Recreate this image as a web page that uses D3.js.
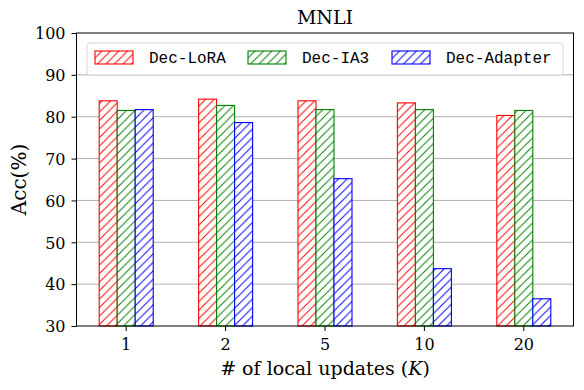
<!DOCTYPE html>
<html>
<head>
<meta charset="utf-8">
<script src="https://cdn.jsdelivr.net/npm/d3@7"></script>
<style>
  body { margin: 0; background: #fff; }
  svg text { fill: #000; }
</style>
</head>
<body>
<svg id="chart" width="584" height="390"></svg>
<script>
var categories = ["1", "2", "5", "10", "20"]
var seriesNames = ["Dec-LoRA", "Dec-IA3", "Dec-Adapter"]
var seriesColors = ["#ff0000", "#008000", "#0000ff"]
var loraVals = [83.8, 84.2, 83.8, 83.3, 80.3]
var ia3Vals = [81.5, 82.7, 81.7, 81.7, 81.5]
var adapterVals = [81.7, 78.6, 65.2, 43.7, 36.5]
var yTicks = [30, 40, 50, 60, 70, 80, 90, 100]

var allVals = [loraVals, ia3Vals, adapterVals]

var svg = d3.select("#chart"),
    margin = {top: 33, right: 10.5, bottom: 64, left: 76.5},
    width  = +svg.attr("width")  - margin.left - margin.right,
    height = +svg.attr("height") - margin.top  - margin.bottom;

var serif = "'DejaVu Serif', 'Liberation Serif', serif"
var mono = "'Liberation Mono', 'DejaVu Sans Mono', monospace"
var fs = 16       // tick labels
var labelFs = 19  // title and axis labels

// hatch patterns, one per series
var defs = svg.append("defs")
seriesColors.forEach(function(c, i){
  var p = defs.append("pattern")
    .attr("id", "hatch" + i)
    .attr("patternUnits", "userSpaceOnUse")
    .attr("width", 8.5)
    .attr("height", 8.5)
  p.append("rect").attr("width", 8.5).attr("height", 8.5).attr("fill", "#fff")
  p.append("path")
    .attr("d", "M-1,9.5 L9.5,-1 M-2.125,2.125 L2.125,-2.125 M6.375,10.625 L10.625,6.375")
    .attr("stroke", c)
    .attr("stroke-width", 1)
})

var g = svg.append("g")
  .attr("transform", "translate(" + margin.left + "," + margin.top + ")")

var x = d3.scaleBand().domain(categories).range([0, width]).paddingInner(0).paddingOuter(0)
var y = d3.scaleLinear().domain([30, 100]).range([height, 0])

var step = x.bandwidth()
var barW = 18

// gridlines
g.append("g")
  .selectAll("line")
  .data(yTicks.slice(1, -1))
  .enter().append("line")
    .attr("x1", 0).attr("x2", width)
    .attr("y1", function(d){ return y(d) })
    .attr("y2", function(d){ return y(d) })
    .attr("stroke", "#b0b0b0")
    .attr("stroke-width", 1)

// bars
allVals.forEach(function(vals, si){
  g.append("g")
    .selectAll("rect")
    .data(vals)
    .enter().append("rect")
      .attr("x", function(d, i){ return x(categories[i]) + step / 2 + (si - 1.5) * barW })
      .attr("y", function(d){ return y(d) })
      .attr("width", barW)
      .attr("height", function(d){ return height - y(d) })
      .attr("fill", "url(#hatch" + si + ")")
      .attr("stroke", seriesColors[si])
      .attr("stroke-width", 1.1)
})

// axes
var xAxis = d3.axisBottom(x).tickSize(5).tickPadding(7)
var yAxis = d3.axisLeft(y).tickValues(yTicks).tickSize(5).tickPadding(6)

var gx = g.append("g")
  .attr("transform", "translate(0," + height + ")")
  .call(xAxis)
gx.select(".domain").remove()
gx.selectAll("text").attr("font-family", serif).attr("font-size", fs).attr("dy", "0.75em")
gx.selectAll("line").attr("stroke", "#000")

var gy = g.append("g").call(yAxis)
gy.select(".domain").remove()
gy.selectAll("text").attr("font-family", serif).attr("font-size", fs).attr("dy", "0.36em")
gy.selectAll("line").attr("stroke", "#000")

// frame
g.append("rect")
  .attr("width", width).attr("height", height)
  .attr("fill", "none").attr("stroke", "#000").attr("stroke-width", 1)

// title and labels
svg.append("text")
  .attr("x", margin.left + width / 2).attr("y", 24)
  .attr("text-anchor", "middle")
  .attr("font-family", serif).attr("font-size", labelFs)
  .text("MNLI")

var xl = svg.append("text")
  .attr("x", margin.left + width / 2).attr("y", 375)
  .attr("text-anchor", "middle")
  .attr("font-family", serif).attr("font-size", labelFs)
xl.append("tspan").text("# of local updates (")
xl.append("tspan").attr("font-style", "italic").text("K")
xl.append("tspan").text(")")

svg.append("text")
  .attr("transform", "translate(26," + (margin.top + height / 2) + ") rotate(-90)")
  .attr("text-anchor", "middle")
  .attr("font-family", serif).attr("font-size", 20)
  .text("Acc(%)")

// legend
var legend = svg.append("g")
legend.append("rect")
  .attr("x", 87).attr("y", 43).attr("width", 476).attr("height", 32)
  .attr("rx", 3).attr("fill", "#fff").attr("fill-opacity", 0.8)
  .attr("stroke", "#d6d6d6").attr("stroke-width", 1)

var legendX = [95, 248, 392]
seriesNames.forEach(function(name, i){
  legend.append("rect")
    .attr("x", legendX[i]).attr("y", 51)
    .attr("width", 38).attr("height", 13)
    .attr("fill", "url(#hatch" + i + ")")
    .attr("stroke", seriesColors[i]).attr("stroke-width", 1.1)
  legend.append("text")
    .attr("x", legendX[i] + 54).attr("y", 63)
    .attr("font-family", mono).attr("font-size", 16)
    .text(name)
})
</script>
</body>
</html>
